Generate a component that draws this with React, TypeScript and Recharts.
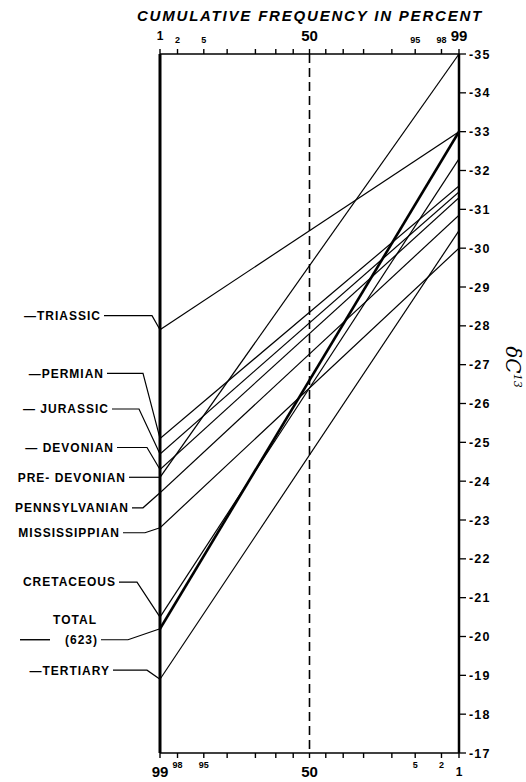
import React from "react";
import { LineChart, Line, XAxis, YAxis, ReferenceLine } from "recharts";

// delta C13 values at 1% and 99% cumulative frequency
const periods = [
  "TRIASSIC",
  "PERMIAN",
  "JURASSIC",
  "DEVONIAN",
  "PRE-DEVONIAN",
  "PENNSYLVANIAN",
  "MISSISSIPPIAN",
  "CRETACEOUS",
  "TOTAL",
  "TERTIARY",
];
const at1Percent = [-27.9, -25.1, -24.7, -24.3, -24.1, -23.7, -22.8, -20.5, -20.2, -18.9];
const at99Percent = [-33.0, -31.6, -31.45, -31.3, -35.0, -30.85, -30.0, -32.3, -33.0, -30.45];
const endPercents = [1, 99];

const freqTicks = [1, 2, 5, 10, 20, 30, 40, 50, 60, 70, 80, 90, 95, 98, 99];
const labelledFreq = [1, 2, 5, 50, 95, 98, 99];
const deltaTicks = [-35, -34, -33, -32, -31, -30, -29, -28, -27, -26, -25, -24, -23, -22, -21, -20, -19, -18, -17];

// inverse normal cdf (probability paper scale)
function probit(p: number) {
  const a = [-39.69683028665376, 220.9460984245205, -275.9285104469687, 138.357751867269, -30.66479806614716, 2.506628277459239];
  const b = [-54.47609879822406, 161.5858368580409, -155.6989798598866, 66.80131188771972, -13.28068155288572];
  const c = [-0.007784894002430293, -0.3223964580411365, -2.400758277161838, -2.549732539343734, 4.374664141464968, 2.938163982698783];
  const d = [0.007784695709041462, 0.3224671290700398, 2.445134137142996, 3.754408661907416];
  const lo = 0.02425;
  const tail = (q: number) =>
    (((((c[0] * q + c[1]) * q + c[2]) * q + c[3]) * q + c[4]) * q + c[5]) /
    ((((d[0] * q + d[1]) * q + d[2]) * q + d[3]) * q + 1);
  if (p < lo) return tail(Math.sqrt(-2 * Math.log(p)));
  if (p > 1 - lo) return -tail(Math.sqrt(-2 * Math.log(1 - p)));
  const q = p - 0.5;
  const r = q * q;
  return (
    ((((((a[0] * r + a[1]) * r + a[2]) * r + a[3]) * r + a[4]) * r + a[5]) * q) /
    (((((b[0] * r + b[1]) * r + b[2]) * r + b[3]) * r + b[4]) * r + 1)
  );
}

const keyOf = (name: string) => name.toLowerCase().replace("-", "");

const data = endPercents.map((p, i) => {
  const row: Record<string, number> = { z: probit(p / 100) };
  periods.forEach((name, j) => {
    row[keyOf(name)] = i === 0 ? at1Percent[j] : at99Percent[j];
  });
  return row;
});

const zDomain = [probit(0.01), probit(0.99)];
const zTicks = freqTicks.map((p) => probit(p / 100));

// leader layout, offsets from the 1% end of each line
const leaders: Record<string, { text: string; dy: number; textEnd: number; knee: number }> = {
  TRIASSIC: { text: "—TRIASSIC", dy: -14, textEnd: -59, knee: -8 },
  PERMIAN: { text: "—PERMIAN", dy: -65, textEnd: -56, knee: -17 },
  JURASSIC: { text: "— JURASSIC", dy: -45, textEnd: -51, knee: -21 },
  DEVONIAN: { text: "— DEVONIAN", dy: -22, textEnd: -46, knee: -13 },
  "PRE-DEVONIAN": { text: "PRE- DEVONIAN", dy: 0, textEnd: -34, knee: -2 },
  PENNSYLVANIAN: { text: "PENNSYLVANIAN", dy: 15, textEnd: -31, knee: -17 },
  MISSISSIPPIAN: { text: "MISSISSIPPIAN", dy: 5, textEnd: -40, knee: -15 },
  CRETACEOUS: { text: "CRETACEOUS", dy: -35, textEnd: -44, knee: -23 },
  TOTAL: { text: "(623)", dy: 11, textEnd: -62, knee: -32 },
  TERTIARY: { text: "—TERTIARY", dy: -9, textEnd: -50, knee: -13 },
};

const font = "'Liberation Sans', Arial, sans-serif";

const Leader = (props: any) => {
  const { x, y, index, name } = props;
  if (index !== 0 || x == null) return <g />;
  const l = leaders[name];
  const ty = y + l.dy;
  const tx = x + l.textEnd;
  return (
    <g>
      <polyline
        points={`${tx + 3},${ty} ${x + l.knee},${ty} ${x},${y}`}
        fill="none"
        stroke="#000"
        strokeWidth={1.2}
      />
      <text
        x={tx}
        y={ty}
        dy="0.36em"
        textAnchor="end"
        fontFamily={font}
        fontWeight="bold"
        fontSize={12}
        letterSpacing={1}
        fill="#000"
      >
        {l.text}
      </text>
      {name === "TOTAL" && (
        <>
          <text
            x={tx - 1}
            y={ty - 20}
            dy="0.36em"
            textAnchor="end"
            fontFamily={font}
            fontWeight="bold"
            fontSize={12}
            letterSpacing={1}
            fill="#000"
          >
            TOTAL
          </text>
          <line x1={tx - 78} y1={ty} x2={tx - 48} y2={ty} stroke="#000" strokeWidth={1.4} />
        </>
      )}
    </g>
  );
};

const pctOf = (z: number) => freqTicks[zTicks.findIndex((t) => Math.abs(t - z) < 1e-9)];

const FreqTick = (props: any) => {
  const { x, y, payload, bottom } = props;
  const p = pctOf(payload.value);
  if (!labelledFreq.includes(p)) return <g />;
  const shown = bottom ? 100 - p : p;
  const big = shown === 50 || shown === 99;
  const one = shown === 1;
  const size = big ? 15 : one ? 12 : 9;
  const off = bottom ? (big ? 17 : one ? 16 : 8) : big ? -6 : one ? -7 : -4;
  return (
    <text
      x={x}
      y={y + off}
      textAnchor="middle"
      fontFamily={font}
      fontWeight="bold"
      fontSize={size}
      fill="#000"
    >
      {shown}
    </text>
  );
};

const DeltaTick = (props: any) => {
  const { x, y, payload } = props;
  return (
    <text
      x={x + 1}
      y={y}
      dy="0.36em"
      textAnchor="start"
      fontFamily={font}
      fontWeight="bold"
      fontSize={12.5}
      letterSpacing={1.2}
      fill="#000"
    >
      {payload.value}
    </text>
  );
};

export default function App() {
  return (
    <div style={{ position: "absolute", left: 0, top: 0, width: 526, height: 782, background: "#fff" }}>
      <div
        style={{
          position: "absolute",
          left: 310,
          top: 15,
          transform: "translate(-50%, -50%)",
          whiteSpace: "nowrap",
          fontFamily: font,
          fontStyle: "italic",
          fontWeight: "bold",
          fontSize: 15,
          letterSpacing: 1.8,
        }}
      >
        CUMULATIVE FREQUENCY IN PERCENT
      </div>
      <div
        style={{
          position: "absolute",
          left: 513,
          top: 367,
          transform: "translate(-50%, -50%) rotate(90deg)",
          whiteSpace: "nowrap",
          fontFamily: "'DejaVu Serif', serif",
          fontStyle: "italic",
          fontSize: 20,
        }}
      >
        δC<sup style={{ fontSize: 11 }}>13</sup>
      </div>
      <LineChart
        width={526}
        height={782}
        data={data}
        margin={{ top: 0, right: 0, bottom: 0, left: 160 }}
        style={{ position: "absolute", left: 0, top: 0 }}
      >
        <XAxis
          xAxisId="top"
          orientation="top"
          dataKey="z"
          type="number"
          domain={zDomain}
          allowDataOverflow
          ticks={zTicks}
          interval={0}
          height={54}
          tickSize={5}
          axisLine={{ stroke: "#000", strokeWidth: 1.5 }}
          tickLine={{ stroke: "#000", strokeWidth: 1.4 }}
          tick={<FreqTick />}
        />
        <XAxis
          xAxisId="bottom"
          orientation="bottom"
          dataKey="z"
          type="number"
          domain={zDomain}
          allowDataOverflow
          ticks={zTicks}
          interval={0}
          height={29}
          tickSize={5}
          axisLine={{ stroke: "#000", strokeWidth: 1.5 }}
          tickLine={{ stroke: "#000", strokeWidth: 1.4 }}
          tick={<FreqTick bottom />}
        />
        <YAxis
          yAxisId="right"
          orientation="right"
          width={67}
          type="number"
          domain={[-35, -17]}
          reversed
          ticks={deltaTicks}
          interval={0}
          tickSize={7}
          axisLine={{ stroke: "#000", strokeWidth: 2.5 }}
          tickLine={{ stroke: "#000", strokeWidth: 1.3 }}
          tick={<DeltaTick />}
        />
        <ReferenceLine
          xAxisId="top"
          yAxisId="right"
          x={zDomain[0]}
          stroke="#000"
          strokeWidth={3}
        />
        <ReferenceLine
          xAxisId="top"
          yAxisId="right"
          x={0}
          stroke="#000"
          strokeWidth={1.6}
          strokeDasharray="9 5"
        />
        {periods.map((name) => (
          <Line
            key={name}
            xAxisId="top"
            yAxisId="right"
            dataKey={keyOf(name)}
            stroke="#000"
            strokeWidth={name === "TOTAL" ? 2.6 : 1.2}
            dot={false}
            activeDot={false}
            isAnimationActive={false}
            label={(p: any) => <Leader key={`${name}-${p.index}`} {...p} name={name} />}
          />
        ))}
      </LineChart>
    </div>
  );
}
